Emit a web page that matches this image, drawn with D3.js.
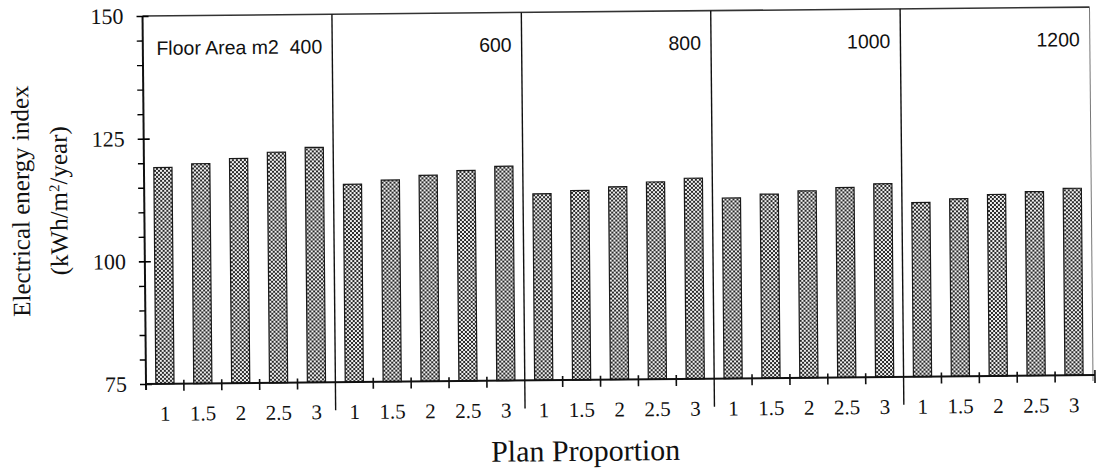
<!DOCTYPE html>
<html>
<head>
<meta charset="utf-8">
<script src="https://cdn.jsdelivr.net/npm/d3@7"></script>
<style>
  body { margin: 0; background: #fff; }
  svg { display: block; }
</style>
</head>
<body>
<svg id="chart" width="1099" height="474"></svg>
<script>
// floor areas (m2) and plan proportions
const areas = ["400", "600", "800", "1000", "1200"];
const proportions = ["1", "1.5", "2", "2.5", "3"];

// electrical energy index (kWh/m2/year), one array per floor area
const eui400 = [119.1, 119.8, 120.8, 122.0, 122.9];
const eui600 = [115.3, 116.1, 117.0, 117.9, 118.7];
const eui800 = [113.0, 113.6, 114.3, 115.2, 115.9];
const eui1000 = [111.8, 112.5, 113.1, 113.7, 114.4];
const eui1200 = [110.5, 111.2, 112.0, 112.5, 113.1];
const series = [eui400, eui600, eui800, eui1000, eui1200];

const yTicks = [75, 100, 125, 150];
const yMinorTicks = [80, 85, 90, 95, 105, 110, 115, 120, 130, 135, 140, 145];

const plotLeft = 146, plotRight = 1093, plotTop = 16, plotBottom = 384;

const svg = d3.select("#chart");

// the scanned original is tilted a little; rotate around the lower-left corner
const root = svg.append("g")
  .attr("transform", "rotate(-0.54," + plotLeft + "," + plotBottom + ")");

// checkered fill used by the bars
const pat = svg.append("defs").append("pattern")
  .attr("id", "checker")
  .attr("width", 4).attr("height", 4)
  .attr("patternUnits", "userSpaceOnUse");
pat.append("rect").attr("width", 4).attr("height", 4).attr("fill", "#f0f0f0");
pat.append("rect").attr("width", 2).attr("height", 2).attr("fill", "#2a2a2a");
pat.append("rect").attr("x", 2).attr("y", 2).attr("width", 2).attr("height", 2).attr("fill", "#2a2a2a");

const x0 = d3.scaleBand().domain(areas).range([plotLeft, plotRight]);
const x1 = d3.scaleBand().domain(proportions)
  .range([0, x0.bandwidth()])
  .paddingInner(0.52)
  .paddingOuter(0.26);
const y = d3.scaleLinear().domain([75, 150]).range([plotBottom, plotTop]);

// frame: top and right lines
root.append("line")
  .attr("x1", plotLeft).attr("x2", plotRight).attr("y1", plotTop).attr("y2", plotTop)
  .attr("stroke", "#333").attr("stroke-width", 1.6);
root.append("line")
  .attr("x1", plotRight).attr("x2", plotRight).attr("y1", plotTop).attr("y2", plotBottom + 6)
  .attr("stroke", "#777").attr("stroke-width", 1);

// panel dividers
root.selectAll(".divider")
  .data(areas.slice(1))
  .enter()
  .append("line")
  .attr("class", "divider")
  .attr("x1", d => x0(d)).attr("x2", d => x0(d))
  .attr("y1", plotTop).attr("y2", plotBottom + 28)
  .attr("stroke", "#111").attr("stroke-width", 1.4);

// bars
const panels = root.selectAll(".panel")
  .data(areas)
  .enter()
  .append("g")
  .attr("class", "panel")
  .attr("transform", d => "translate(" + x0(d) + ",0)");

panels.selectAll("rect")
  .data((d, i) => proportions.map((p, j) => ({ p: p, v: series[i][j] })))
  .enter()
  .append("rect")
  .attr("x", d => x1(d.p))
  .attr("y", d => y(d.v))
  .attr("width", x1.bandwidth())
  .attr("height", d => y(75) - y(d.v))
  .attr("fill", "url(#checker)")
  .attr("stroke", "#1a1a1a")
  .attr("stroke-width", 1.2);

// panel labels
panels.append("text")
  .attr("x", x0.bandwidth() - 10)
  .attr("y", 55)
  .attr("text-anchor", "end")
  .style("font-family", "'Liberation Sans', Arial, sans-serif")
  .style("font-size", "19.5px")
  .style("white-space", "pre")
  .attr("fill", "#111")
  .text((d, i) => i === 0 ? "Floor Area m2  " + d : d);

// y axis, major ticks
const yAxis = root.append("g")
  .attr("transform", "translate(" + plotLeft + ",0)")
  .call(d3.axisLeft(y).tickValues(yTicks).tickSize(6).tickPadding(13).tickSizeOuter(0));
yAxis.select(".domain").attr("stroke", "#111").attr("stroke-width", 2)
  .attr("d", "M0," + plotTop + "V" + (plotBottom + 6));
yAxis.selectAll(".tick line").attr("x1", 6).attr("stroke-width", 1.6);
yAxis.selectAll(".tick text")
  .style("font-family", "'Liberation Serif', 'Times New Roman', serif")
  .style("font-size", "22px")
  .attr("fill", "#111");

// y axis, minor ticks
const yMinor = root.append("g")
  .attr("transform", "translate(" + plotLeft + ",0)")
  .call(d3.axisLeft(y).tickValues(yMinorTicks).tickSize(6).tickFormat(""));
yMinor.select(".domain").remove();
yMinor.selectAll(".tick line").attr("stroke-width", 1.4);

// x axis line
root.append("line")
  .attr("x1", plotLeft).attr("x2", plotRight + 2).attr("y1", plotBottom).attr("y2", plotBottom)
  .attr("stroke", "#111").attr("stroke-width", 2);

// x axis: labels under each bar, ticks at the band edges
panels.each(function () {
  const g = d3.select(this).append("g")
    .attr("transform", "translate(0," + plotBottom + ")")
    .call(d3.axisBottom(x1).tickSize(0).tickPadding(22));
  g.select(".domain").remove();
  g.selectAll(".tick text")
    .style("font-family", "'Liberation Serif', 'Times New Roman', serif")
    .style("font-size", "21px")
    .attr("fill", "#111");
  d3.select(this).selectAll(".edge")
    .data(d3.range(1, proportions.length))
    .enter()
    .append("line")
    .attr("class", "edge")
    .attr("x1", k => k * x1.step()).attr("x2", k => k * x1.step())
    .attr("y1", plotBottom - 4).attr("y2", plotBottom + 7)
    .attr("stroke", "#111").attr("stroke-width", 1.6);
});
root.append("line")
  .attr("x1", plotRight + 2).attr("x2", plotRight + 2)
  .attr("y1", plotBottom - 5).attr("y2", plotBottom + 8)
  .attr("stroke", "#111").attr("stroke-width", 1.6);

// axis titles
const yTitle = root.append("text")
  .attr("transform", "translate(31," + ((plotTop + plotBottom) / 2) + ") rotate(-90)")
  .attr("text-anchor", "middle")
  .style("font-family", "'Liberation Serif', 'Times New Roman', serif")
  .style("font-size", "25px")
  .attr("fill", "#111");
yTitle.append("tspan").attr("x", 0).attr("y", 0).text("Electrical energy index");
const t2 = yTitle.append("tspan").attr("x", 0).attr("y", 38).text("(kWh/m");
t2.append("tspan").attr("baseline-shift", "super").style("font-size", "15px").text("2");
t2.append("tspan").text("/year)");

root.append("text")
  .attr("x", 585)
  .attr("y", 465)
  .attr("text-anchor", "middle")
  .style("font-family", "'Liberation Serif', 'Times New Roman', serif")
  .style("font-size", "30px")
  .attr("fill", "#111")
  .text("Plan Proportion");
</script>
</body>
</html>
